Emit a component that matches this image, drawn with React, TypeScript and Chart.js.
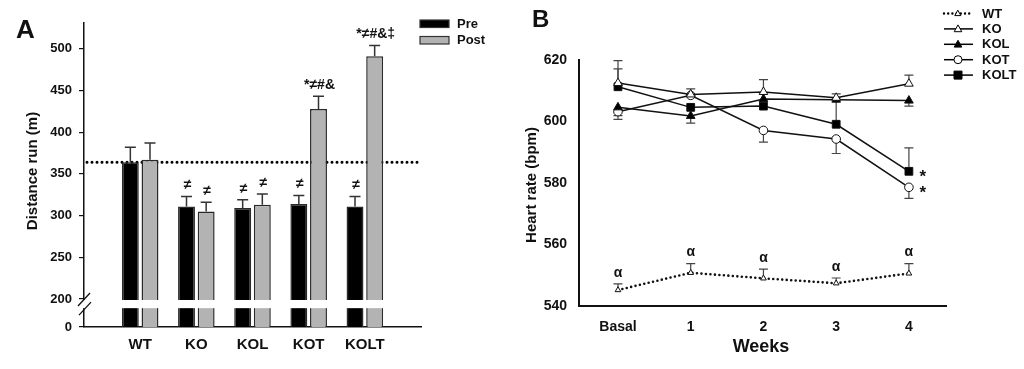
import React, { useEffect, useRef } from 'react';
import { Chart, registerables } from 'chart.js';
Chart.register(...registerables);

const FONT = '"Liberation Sans", Arial, Helvetica, sans-serif';
const INK = '#111';

// ---------- Panel A data ----------
const groups = ['WT', 'KO', 'KOL', 'KOT', 'KOLT'];
const preDistance = [364, 311, 309, 314, 311];
const postDistance = [367, 305, 313, 428, 491];
const preError = [18, 12, 10, 10, 12];
const postError = [20, 11, 13, 15, 13];
const preMarks = ['', '≠', '≠', '≠', '≠'];
const postMarks = ['', '≠', '≠', '*≠#&', '*≠#&‡'];
const wtReferenceLine = 364;
const distanceTicks = [0, 200, 250, 300, 350, 400, 450, 500];
const distanceMax = 531;
const breakAt = 200;
const breakGapUnits = 33.6;
const breakBandUnits = 11;

// ---------- Panel B data ----------
const weeks = ['Basal', '1', '2', '3', '4'];
const wtRate = [545.2, 550.8, 549.0, 547.4, 550.6];
const koRate = [612.5, 608.8, 609.6, 607.7, 612.3];
const kolRate = [604.6, 601.8, 607.3, 607.1, 606.8];
const kotRate = [603.2, 608.5, 597.1, 594.3, 578.6];
const koltRate = [611.3, 604.6, 605.0, 599.1, 583.8];
const wtErrUp = [2, 3, 3, 1.7, 3.2];
const koErrUp = [7.3, 1.8, 4, 1.3, 2.8];
const kolErrDown = [2.7, 2.3, 0, 0, 1.8];
const kotErrDown = [2.5, 0, 3.8, 4.7, 3.6];
const koltErrUp = [5.8, 0, 0, 8.5, 7.6];
const wtMarks = ['α', 'α', 'α', 'α', 'α'];
const kotMarks = ['', '', '', '', '*'];
const koltMarks = ['', '', '', '', '*'];
const rateTicks = [540, 560, 580, 600, 620];

const breakAxis = (v: number) =>
  v >= breakAt ? v : breakAt - breakGapUnits + (v / breakAt) * breakGapUnits;

function text(ctx: CanvasRenderingContext2D, s: string, x: number, y: number, size: number,
  align: CanvasTextAlign = 'center', baseline: CanvasTextBaseline = 'middle', rotate = 0) {
  ctx.save();
  ctx.font = `bold ${size}px ${FONT}`;
  ctx.fillStyle = INK;
  ctx.textAlign = align;
  ctx.textBaseline = baseline;
  ctx.translate(x, y);
  if (rotate) ctx.rotate(rotate);
  ctx.fillText(s, 0, 0);
  ctx.restore();
}

function errBar(ctx: CanvasRenderingContext2D, x: number, y0: number, y1: number, half: number, color: string, w: number) {
  ctx.save();
  ctx.strokeStyle = color;
  ctx.lineWidth = w;
  ctx.beginPath();
  ctx.moveTo(x, y0);
  ctx.lineTo(x, y1);
  ctx.moveTo(x - half, y1);
  ctx.lineTo(x + half, y1);
  ctx.stroke();
  ctx.restore();
}

const panelAPlugin = {
  id: 'panelA',
  beforeDatasetsDraw(chart: any) {
    const { ctx, chartArea, scales } = chart;
    const py = scales.y.getPixelForValue(wtReferenceLine);
    ctx.save();
    ctx.strokeStyle = '#000';
    ctx.lineWidth = 3;
    ctx.lineCap = 'round';
    ctx.setLineDash([0, 5]);
    ctx.beginPath();
    ctx.moveTo(chartArea.left + 3, py);
    ctx.lineTo(chartArea.right - 3, py);
    ctx.stroke();
    ctx.restore();
  },
  afterDatasetsDraw(chart: any) {
    const { ctx, scales } = chart;
    chart.data.datasets.forEach((ds: any, d: number) => {
      const meta = chart.getDatasetMeta(d);
      meta.data.forEach((el: any, i: number) => {
        const raw = ds.data[i];
        if (!raw) return;
        const err = ds.errors[i];
        const top = scales.y.getPixelForValue(raw[1] + err);
        errBar(ctx, el.x, el.y, top, 5.5, '#333', 1.5);
        const m = ds.marks[i];
        if (m) text(ctx, m, el.x + 1, top - 11, 14);
      });
    });
  },
  afterDraw(chart: any) {
    const { ctx, chartArea, scales } = chart;
    const y200 = scales.y.getPixelForValue(breakAt);
    const yLow = scales.y.getPixelForValue(breakAt - breakBandUnits);
    ctx.save();
    ctx.fillStyle = '#fff';
    ctx.fillRect(chartArea.left - 3, y200 + 1, chartArea.right - chartArea.left + 3, yLow - y200 - 1);
    ctx.strokeStyle = INK;
    ctx.lineWidth = 1.3;
    ctx.beginPath();
    const lx = chartArea.left;
    ctx.moveTo(lx - 6, y200 + 7);
    ctx.lineTo(lx + 6, y200 - 6);
    ctx.moveTo(lx - 5, yLow + 7);
    ctx.lineTo(lx + 7, yLow - 6);
    ctx.stroke();
    ctx.restore();

    // legend
    const boxes = [
      { label: 'Pre', color: '#000', y: 20 },
      { label: 'Post', color: '#b3b3b3', y: 36.5 },
    ];
    boxes.forEach((b) => {
      ctx.save();
      ctx.fillStyle = b.color;
      ctx.strokeStyle = '#333';
      ctx.lineWidth = 1.2;
      ctx.fillRect(420, b.y, 29, 7.5);
      ctx.strokeRect(420, b.y, 29, 7.5);
      ctx.restore();
      text(ctx, b.label, 457, b.y + 4, 13, 'left');
    });

    text(ctx, 'A', 16, 38, 26, 'left', 'alphabetic');
    text(ctx, 'Distance run (m)', 33, 171, 15, 'center', 'middle', -Math.PI / 2);
  },
};

const panelBPlugin = {
  id: 'panelB',
  beforeDatasetsDraw(chart: any) {
    const { ctx, scales } = chart;
    chart.data.datasets.forEach((ds: any, d: number) => {
      const meta = chart.getDatasetMeta(d);
      meta.data.forEach((el: any, i: number) => {
        const v = ds.data[i].y;
        const up = ds.errUp ? ds.errUp[i] : 0;
        const down = ds.errDown ? ds.errDown[i] : 0;
        if (up) errBar(ctx, el.x, el.y, scales.y.getPixelForValue(v + up), 4.5, '#444', 1.2);
        if (down) errBar(ctx, el.x, el.y, scales.y.getPixelForValue(v - down), 4.5, '#444', 1.2);
      });
    });
  },
  afterDatasetsDraw(chart: any) {
    const { ctx, scales } = chart;
    chart.data.datasets.forEach((ds: any, d: number) => {
      if (!ds.marks) return;
      const meta = chart.getDatasetMeta(d);
      meta.data.forEach((el: any, i: number) => {
        const m = ds.marks[i];
        if (!m) return;
        if (m === 'α') {
          const top = scales.y.getPixelForValue(ds.data[i].y + (ds.errUp ? ds.errUp[i] : 0));
          text(ctx, m, el.x, top - 11, 14);
        } else {
          text(ctx, m, el.x + 14, el.y + 6, 17);
        }
      });
    });
  },
  afterDraw(chart: any) {
    const { ctx } = chart;
    text(ctx, 'B', 32, 27, 24, 'left', 'alphabetic');
    text(ctx, 'Heart rate (bpm)', 32, 185, 15, 'center', 'middle', -Math.PI / 2);
    text(ctx, 'Weeks', 261, 347, 18);

    // legend
    chart.data.datasets.forEach((ds: any, d: number) => {
      const y = 13.5 + d * 15.4;
      ctx.save();
      ctx.strokeStyle = '#000';
      if (ds.borderDash) {
        ctx.lineWidth = 2.4;
        ctx.lineCap = 'round';
        ctx.setLineDash([0, 4.2]);
      } else {
        ctx.lineWidth = 1.5;
      }
      ctx.beginPath();
      ctx.moveTo(444, y);
      ctx.lineTo(473, y);
      ctx.stroke();
      ctx.setLineDash([]);
      const cx = 458;
      const r = ds.borderDash ? 3 : 4;
      ctx.fillStyle = ds.pointBackgroundColor;
      ctx.lineWidth = 1;
      ctx.beginPath();
      if (ds.pointStyle === 'triangle') {
        ctx.moveTo(cx, y - r);
        ctx.lineTo(cx + r * 0.95, y + r * 0.7);
        ctx.lineTo(cx - r * 0.95, y + r * 0.7);
        ctx.closePath();
      } else if (ds.pointStyle === 'circle') {
        ctx.arc(cx, y, r, 0, Math.PI * 2);
      } else {
        ctx.rect(cx - r, y - r, 2 * r, 2 * r);
      }
      ctx.fill();
      ctx.stroke();
      ctx.restore();
      text(ctx, ds.label, 482, y + 0.5, 13, 'left');
    });
  },
};

const toPoints = (arr: number[]) => arr.map((y, i) => ({ x: i, y }));

function PanelA() {
  const ref = useRef<HTMLCanvasElement>(null);
  useEffect(() => {
    const pad = (arr: any[]) => [null, ...arr, null];
    const base = breakAxis(0);
    const chart = new Chart(ref.current!, {
      type: 'bar',
      data: {
        labels: ['', ...groups, ''],
        datasets: [
          {
            label: 'Pre',
            data: pad(preDistance.map((v) => [base, v])),
            backgroundColor: '#000',
            borderColor: '#2a2a2a',
            borderWidth: 1.5,
            errors: pad(preError),
            marks: pad(preMarks),
          } as any,
          {
            label: 'Post',
            data: pad(postDistance.map((v) => [base, v])),
            backgroundColor: '#b3b3b3',
            borderColor: '#2a2a2a',
            borderWidth: 1.5,
            errors: pad(postError),
            marks: pad(postMarks),
          } as any,
        ],
      },
      options: {
        responsive: false,
        animation: false,
        layout: { padding: { left: 0, top: 23, right: 79, bottom: 0 } },
        plugins: { legend: { display: false }, tooltip: { enabled: false } },
        datasets: { bar: { categoryPercentage: 0.7, barPercentage: 0.86 } },
        scales: {
          x: {
            type: 'category',
            offset: false,
            grid: { display: false, drawTicks: false },
            border: { display: true, color: INK, width: 1.5 },
            ticks: {
              font: { family: FONT, size: 15, weight: 'bold' },
              color: INK,
              padding: 9,
              autoSkip: false,
              maxRotation: 0,
            },
            afterFit: (s: any) => { s.height = 42; },
          },
          y: {
            type: 'linear',
            min: base,
            max: distanceMax,
            grid: { drawOnChartArea: false, drawTicks: true, tickLength: 5, color: INK, lineWidth: 1.2 },
            border: { display: true, color: INK, width: 1.5 },
            ticks: {
              font: { family: FONT, size: 13, weight: 'bold' },
              color: INK,
              padding: 7,
              callback: (_v: any, i: number) => String(distanceTicks[i]),
            },
            afterBuildTicks: (s: any) => { s.ticks = distanceTicks.map((t) => ({ value: breakAxis(t) })); },
            afterFit: (s: any) => { s.width = 84; },
          },
        },
      } as any,
      plugins: [panelAPlugin],
    });
    return () => chart.destroy();
  }, []);
  return <canvas ref={ref} width={500} height={369} style={{ position: 'absolute', left: 0, top: 0 }} />;
}

function PanelB() {
  const ref = useRef<HTMLCanvasElement>(null);
  useEffect(() => {
    const common = { borderColor: '#111', pointBorderColor: '#111', pointBorderWidth: 1, borderWidth: 1.5 };
    const chart = new Chart(ref.current!, {
      type: 'line',
      data: {
        datasets: [
          {
            label: 'WT', data: toPoints(wtRate), ...common, borderWidth: 2.6, borderDash: [0, 4.5], borderCapStyle: 'round',
            pointStyle: 'triangle', pointRadius: 3.3, pointBackgroundColor: '#fff', errUp: wtErrUp, marks: wtMarks,
          } as any,
          {
            label: 'KO', data: toPoints(koRate), ...common,
            pointStyle: 'triangle', pointRadius: 5, pointBackgroundColor: '#fff', errUp: koErrUp,
          } as any,
          {
            label: 'KOL', data: toPoints(kolRate), ...common,
            pointStyle: 'triangle', pointRadius: 5, pointBackgroundColor: '#000', errDown: kolErrDown,
          } as any,
          {
            label: 'KOT', data: toPoints(kotRate), ...common,
            pointStyle: 'circle', pointRadius: 4.3, pointBackgroundColor: '#fff', errDown: kotErrDown, marks: kotMarks,
          } as any,
          {
            label: 'KOLT', data: toPoints(koltRate), ...common,
            pointStyle: 'rect', pointRadius: 5.5, pointBackgroundColor: '#000', errUp: koltErrUp, marks: koltMarks,
          } as any,
        ],
      },
      options: {
        responsive: false,
        animation: false,
        layout: { padding: { left: 0, top: 60, right: 78, bottom: 0 } },
        plugins: { legend: { display: false }, tooltip: { enabled: false } },
        scales: {
          x: {
            type: 'linear',
            min: -0.536,
            max: 4.51,
            grid: { display: false, drawTicks: false },
            border: { display: true, color: INK, width: 2 },
            ticks: {
              font: { family: FONT, size: 14, weight: 'bold' },
              color: INK,
              padding: 13,
              callback: (_v: any, i: number) => weeks[i],
            },
            afterBuildTicks: (s: any) => { s.ticks = weeks.map((_w, i) => ({ value: i })); },
            afterFit: (s: any) => { s.height = 63; },
          },
          y: {
            type: 'linear',
            min: rateTicks[0],
            max: rateTicks[rateTicks.length - 1],
            grid: { display: false, drawTicks: false },
            border: { display: true, color: INK, width: 2 },
            ticks: {
              font: { family: FONT, size: 14, weight: 'bold' },
              color: INK,
              padding: 12,
              callback: (_v: any, i: number) => String(rateTicks[i]),
            },
            afterBuildTicks: (s: any) => { s.ticks = rateTicks.map((t) => ({ value: t })); },
            afterFit: (s: any) => { s.width = 79; },
          },
        },
      } as any,
      plugins: [panelBPlugin],
    });
    return () => chart.destroy();
  }, []);
  return <canvas ref={ref} width={524} height={369} style={{ position: 'absolute', left: 500, top: 0 }} />;
}

export default function App() {
  return (
    <div style={{ position: 'absolute', left: 0, top: 0, width: 1024, height: 369, background: '#fff', overflow: 'hidden' }}>
      <PanelA />
      <PanelB />
    </div>
  );
}
